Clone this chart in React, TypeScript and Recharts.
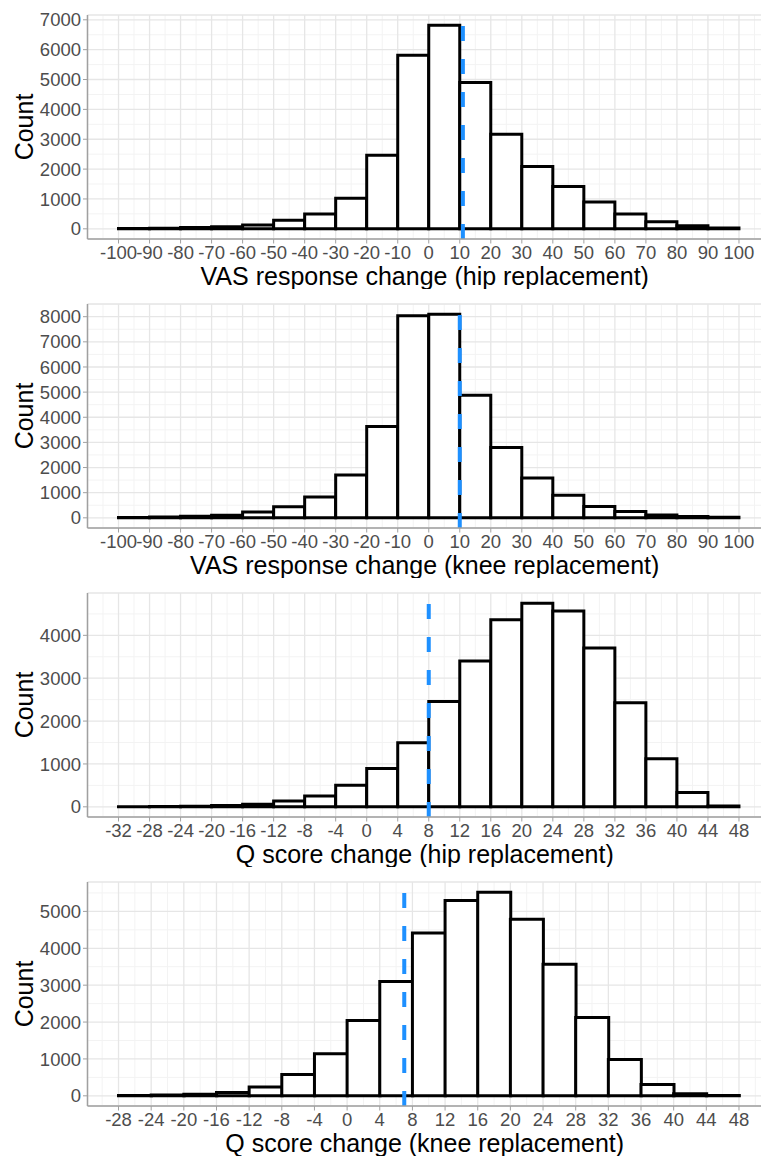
import React from "react";
import { ComposedChart, Bar, XAxis, YAxis, CartesianGrid, ReferenceLine } from "recharts";

// bin centres (width 10 for VAS, width 4 for Q score)
const vasBinMids = [-95, -85, -75, -65, -55, -45, -35, -25, -15, -5, 5, 15, 25, 35, 45, 55, 65, 75, 85, 95];
const hipVasCounts = [10, 20, 45, 70, 125, 290, 500, 1020, 2460, 5810, 6820, 4900, 3170, 2090, 1420, 900, 500, 235, 100, 25];
const kneeVasCounts = [15, 30, 60, 100, 230, 440, 830, 1700, 3630, 8040, 8100, 4880, 2800, 1580, 900, 450, 250, 115, 55, 20];

const qHipBinMids = [-30, -26, -22, -18, -14, -10, -6, -2, 2, 6, 10, 14, 18, 22, 26, 30, 34, 38, 42, 46];
const qHipCounts = [3, 8, 15, 30, 62, 135, 255, 505, 895, 1495, 2455, 3400, 4365, 4750, 4565, 3705, 2430, 1120, 335, 20];

const qKneeBinMids = [-26, -22, -18, -14, -10, -6, -2, 2, 6, 10, 14, 18, 22, 26, 30, 34, 38, 42, 46];
const qKneeCounts = [8, 20, 45, 92, 242, 576, 1142, 2040, 3097, 4417, 5298, 5521, 4786, 3566, 2120, 988, 307, 54, 10];

const vasTicks = [-100, -90, -80, -70, -60, -50, -40, -30, -20, -10, 0, 10, 20, 30, 40, 50, 60, 70, 80, 90, 100];
const qHipTicks = [-32, -28, -24, -20, -16, -12, -8, -4, 0, 4, 8, 12, 16, 20, 24, 28, 32, 36, 40, 44, 48];
const qKneeTicks = [-28, -24, -20, -16, -12, -8, -4, 0, 4, 8, 12, 16, 20, 24, 28, 32, 36, 40, 44, 48];

const hipVasYTicks = [0, 1000, 2000, 3000, 4000, 5000, 6000, 7000];
const kneeVasYTicks = [0, 1000, 2000, 3000, 4000, 5000, 6000, 7000, 8000];
const qHipYTicks = [0, 1000, 2000, 3000, 4000];
const qKneeYTicks = [0, 1000, 2000, 3000, 4000, 5000];

const hipVasMean = 11;
const kneeVasMean = 10;
const qHipMean = 8;
const qKneeMean = 7;

const FONT = "'Liberation Sans', Arial, sans-serif";
const BORDER = "#a0a0a0";

// ggplot-style 5% expansion on both axes
function expand(lo: number, hi: number) {
  const pad = (hi - lo) * 0.05;
  return [lo - pad, hi + pad];
}

// minor grid: half way between majors, plus one beyond each end if it fits
function minors(major: number[], domain: number[]) {
  const step = major[1] - major[0];
  const out = major.map((v) => v - step / 2);
  out.push(major[major.length - 1] + step / 2);
  return out.filter((v) => v > domain[0] && v < domain[1]);
}

const YTitle = (props: any) => {
  const { viewBox } = props;
  const cy = viewBox.y + viewBox.height / 2;
  const x = 33;
  return (
    <text x={x} y={cy} transform={`rotate(-90, ${x}, ${cy})`} textAnchor="middle" fontSize={25} fontFamily={FONT} fill="#000">
      Count
    </text>
  );
};

const XTitle = (props: any) => {
  const { viewBox, title } = props;
  return (
    <text x={viewBox.x + viewBox.width / 2 - 4} y={viewBox.y + 46} textAnchor="middle" fontSize={25} fontFamily={FONT} fill="#000">
      {title}
    </text>
  );
};

interface PanelProps {
  top: number;
  mids: number[];
  counts: number[];
  ticks: number[];
  binLo: number;
  binHi: number;
  yTicks: number[];
  mean: number;
  title: string;
}

function Panel({ top, mids, counts, ticks, binLo, binHi, yTicks, mean, title }: PanelProps) {
  const data = mids.map((m, i) => ({ mid: m, count: counts[i] }));
  const xDomain = expand(binLo, binHi);
  const yDomain = expand(0, Math.max(...counts));
  const tickStyle = { fontSize: 18.5, fill: "#4d4d4d", fontFamily: FONT };

  return (
    <div style={{ position: "absolute", left: 0, top, width: 771, height: 289 }}>
      <ComposedChart width={771} height={289} data={data} margin={{ top: 15, right: 1, bottom: 0, left: 0 }} barCategoryGap={0} barGap={0}>
        <CartesianGrid
          verticalValues={minors(ticks, xDomain)}
          horizontalValues={minors(yTicks, yDomain)}
          stroke="#f3f3f3"
          strokeWidth={1}
        />
        <CartesianGrid stroke="#e6e6e6" strokeWidth={1.3} />
        <XAxis
          dataKey="mid"
          type="number"
          domain={xDomain}
          allowDataOverflow
          ticks={ticks}
          interval={0}
          height={50}
          tick={tickStyle}
          tickSize={4.5}
          tickMargin={2}
          tickLine={{ stroke: BORDER }}
          axisLine={{ stroke: BORDER, strokeWidth: 1.5 }}
          label={<XTitle title={title} />}
        />
        <XAxis
          xAxisId="top"
          orientation="top"
          type="number"
          domain={xDomain}
          allowDataOverflow
          height={0}
          tick={false}
          tickLine={false}
          axisLine={{ stroke: BORDER, strokeWidth: 1.5 }}
        />
        <YAxis
          type="number"
          domain={yDomain}
          allowDataOverflow
          ticks={yTicks}
          interval={0}
          width={87.5}
          tick={tickStyle}
          tickSize={4.5}
          tickMargin={2}
          tickLine={{ stroke: BORDER }}
          axisLine={{ stroke: BORDER, strokeWidth: 1.5 }}
          label={<YTitle />}
        />
        <Bar dataKey="count" fill="#ffffff" stroke="#000000" strokeWidth={3} isAnimationActive={false} />
        <ReferenceLine x={mean} stroke="#1E90FF" strokeWidth={4} strokeDasharray="15 18" ifOverflow="visible" />
      </ComposedChart>
    </div>
  );
}

export default function App() {
  return (
    <div style={{ position: "absolute", left: 0, top: 0, width: 761, height: 1158, overflow: "hidden", background: "#fff" }}>
      <Panel top={0} mids={vasBinMids} counts={hipVasCounts} ticks={vasTicks} binLo={-100} binHi={100} yTicks={hipVasYTicks} mean={hipVasMean} title="VAS response change (hip replacement)" />
      <Panel top={289} mids={vasBinMids} counts={kneeVasCounts} ticks={vasTicks} binLo={-100} binHi={100} yTicks={kneeVasYTicks} mean={kneeVasMean} title="VAS response change (knee replacement)" />
      <Panel top={578} mids={qHipBinMids} counts={qHipCounts} ticks={qHipTicks} binLo={-32} binHi={48} yTicks={qHipYTicks} mean={qHipMean} title="Q score change (hip replacement)" />
      <Panel top={867} mids={qKneeBinMids} counts={qKneeCounts} ticks={qKneeTicks} binLo={-28} binHi={48} yTicks={qKneeYTicks} mean={qKneeMean} title="Q score change (knee replacement)" />
    </div>
  );
}
